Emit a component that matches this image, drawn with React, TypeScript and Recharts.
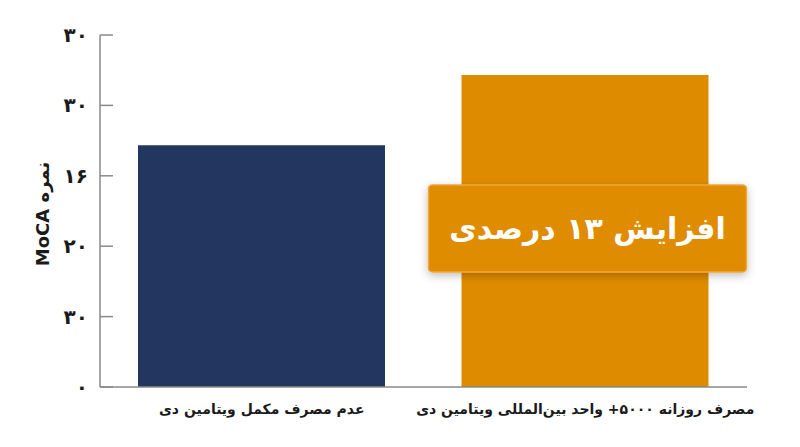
import React from "react";
import { BarChart, Bar, XAxis, YAxis, Cell, LabelList } from "recharts";

const categories = [
  "عدم مصرف مکمل ویتامین دی",
  "مصرف روزانه ۵۰۰۰+ واحد بین‌المللی ویتامین دی",
];
const scores = [20.6, 26.6];
const barColors = ["#23365f", "#de8b00"];
const yTicks = [0, 6, 12, 18, 24, 30];
const yTickLabels = ["۰", "۳۰", "۲۰", "۱۶", "۳۰", "۳۰"];
const yTitle = "نمره MoCA";
const callout = "افزایش ۱۳ درصدی";

const data = categories.map((name, i) => ({ name, score: scores[i] }));

const FONT = "'DejaVu Sans', 'Noto Sans', sans-serif";

function YTick({ x, y, payload }: any) {
  const idx = yTicks.indexOf(payload.value);
  return (
    <g>
      <line x1={x + 12} x2={x + 25} y1={y} y2={y} stroke="#8a8a8a" strokeWidth={1.5} />
      <text
        x={x}
        y={y}
        textAnchor="end"
        dominantBaseline="central"
        fontFamily={FONT}
        fontWeight={700}
        fontSize={20}
        fill="#1a1a1a"
      >
        {yTickLabels[idx]}
      </text>
    </g>
  );
}

function XTick({ x, y, payload }: any) {
  return (
    <text
      x={x}
      y={y + 14}
      textAnchor="middle"
      dominantBaseline="central"
      direction="rtl"
      fontFamily={FONT}
      fontWeight={700}
      fontSize={14}
      fill="#1a1a1a"
    >
      {payload.value}
    </text>
  );
}

function Callout(props: any) {
  const { x, y, width, index } = props;
  if (index !== 1) return null;
  const bx = x - 33;
  const by = y + 110;
  const bw = width + 71;
  const bh = 87;
  return (
    <g>
      <rect
        x={bx}
        y={by}
        width={bw}
        height={bh}
        rx={4}
        fill="#df8c02"
        stroke="#eea83a"
        strokeWidth={1.5}
        filter="url(#boxShadow)"
      />
      <text
        x={bx + bw / 2}
        y={by + bh / 2}
        textAnchor="middle"
        dominantBaseline="central"
        direction="rtl"
        fontFamily={FONT}
        fontWeight={700}
        fontSize={30}
        fill="#ffffff"
      >
        {callout}
      </text>
    </g>
  );
}

export default function App() {
  return (
    <div style={{ position: "absolute", left: 0, top: 0, width: 800, height: 447, background: "#fff" }}>
      <BarChart
        width={800}
        height={447}
        data={data}
        margin={{ top: 35, right: 53, bottom: 0, left: 0 }}
        barCategoryGap={0}
      >
        <defs>
          <filter id="boxShadow" x="-20%" y="-30%" width="140%" height="160%">
            <feDropShadow dx={0} dy={3} stdDeviation={4} floodColor="#000" floodOpacity={0.25} />
          </filter>
        </defs>
        <XAxis
          dataKey="name"
          height={60}
          stroke="#8a8a8a"
          strokeWidth={1.5}
          tickLine={false}
          tick={<XTick />}
          interval={0}
        />
        <YAxis
          width={100}
          domain={[0, 30]}
          ticks={yTicks}
          stroke="#8a8a8a"
          strokeWidth={1.5}
          tickLine={false}
          tickSize={0}
          tickMargin={12}
          tick={<YTick />}
          label={{
            content: () => (
              <text
                x={42}
                y={214}
                transform="rotate(-90 42 214)"
                textAnchor="middle"
                dominantBaseline="central"
                direction="rtl"
                fontFamily={FONT}
                fontWeight={700}
                fontSize={18}
                fill="#1a1a1a"
              >
                {yTitle}
              </text>
            ),
          }}
        />
        <Bar dataKey="score" barSize={247} isAnimationActive={false}>
          {data.map((d, i) => (
            <Cell key={d.name} fill={barColors[i]} />
          ))}
          <LabelList dataKey="score" content={<Callout />} />
        </Bar>
      </BarChart>
    </div>
  );
}
